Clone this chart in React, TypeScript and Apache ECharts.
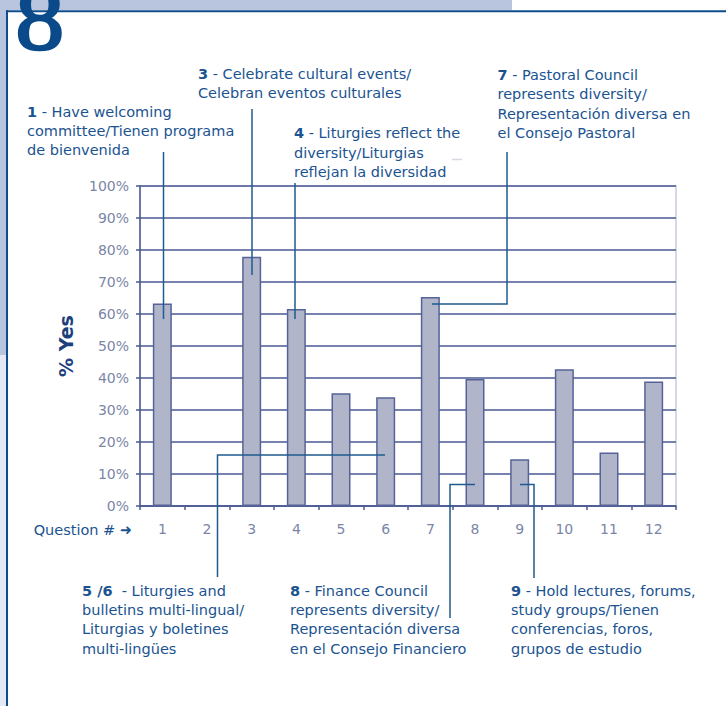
import React, { useEffect, useRef } from 'react';
import * as echarts from 'echarts';

// ---- data ----
const questions = ['1', '2', '3', '4', '5', '6', '7', '8', '9', '10', '11', '12'];
const yesPercent = [63.3, 0, 77.9, 61.6, 35.2, 34.0, 65.3, 39.7, 14.6, 42.7, 16.7, 38.9];
const yAxisTitle = '% Yes';
const xAxisTitle = 'Question # \u279C';
const pageNumber = '8';

const note1 = ['{b|1} - Have welcoming', 'committee/Tienen programa', 'de bienvenida'];
const note3 = ['{b|3} - Celebrate cultural events/', 'Celebran eventos culturales'];
const note4 = ['{b|4} - Liturgies reflect the', 'diversity/Liturgias', 'reflejan la diversidad'];
const note7 = ['{b|7} - Pastoral Council', 'represents diversity/', 'Representación diversa en', 'el Consejo Pastoral'];
const note56 = ['{b|5 /6}  - Liturgies and', 'bulletins multi-lingual/', 'Liturgias y boletines', 'multi-lingües'];
const note8 = ['{b|8} - Finance Council', 'represents diversity/', 'Representación diversa', 'en el Consejo Financiero'];
const note9 = ['{b|9} - Hold lectures, forums,', 'study groups/Tienen', 'conferencias, foros,', 'grupos de estudio'];

const FONT = '"DejaVu Sans", sans-serif';
const NOTE_COLOR = '#1b5391';
const LINE_COLOR = '#1f5b8e';
const GRID_COLOR = '#4a5893';
const LH = 19.3;

function noteText(lines: string[], x: number, top: number) {
  return {
    type: 'text',
    x,
    y: top,
    z: 100,
    style: {
      text: lines.join('\n'),
      fontSize: 14.5,
      fontFamily: FONT,
      fill: NOTE_COLOR,
      lineHeight: LH,
      align: 'left',
      verticalAlign: 'top',
      textAlign: 'left',
      textVerticalAlign: 'top',
      rich: {
        b: { fontWeight: 'bold', fontSize: 14.5, fontFamily: FONT, fill: NOTE_COLOR, lineHeight: LH },
      },
    },
  };
}

function callout(points: number[][]) {
  return {
    type: 'polyline',
    z: 100,
    shape: { points },
    style: { stroke: LINE_COLOR, lineWidth: 1.5, fill: 'none' },
  };
}

export default function App() {
  const ref = useRef<HTMLDivElement>(null);

  useEffect(() => {
    if (!ref.current) return;
    const chart = echarts.init(ref.current, undefined, { renderer: 'svg' });
    chart.setOption({
      animation: false,
      backgroundColor: '#ffffff',
      grid: {
        left: 140,
        right: 50,
        top: 186,
        bottom: 200,
        show: true,
        borderColor: '#c9ccdd',
        borderWidth: 1.5,
        backgroundColor: 'transparent',
      },
      xAxis: {
        type: 'category',
        data: questions,
        name: xAxisTitle,
        nameLocation: 'start',
        nameGap: 8,
        nameTextStyle: {
          fontFamily: FONT,
          fontSize: 14.5,
          color: NOTE_COLOR,
          align: 'right',
          verticalAlign: 'top',
          padding: [16, 0, 0, 0],
        },
        axisLine: { show: true, lineStyle: { color: GRID_COLOR, width: 1.5 } },
        axisTick: { show: true, length: 4, interval: 0, alignWithLabel: false, lineStyle: { color: GRID_COLOR, width: 1.5 } },
        axisLabel: { fontFamily: FONT, fontSize: 14, color: '#7c85a8', margin: 16, interval: 0 },
        splitLine: { show: false },
      },
      yAxis: {
        type: 'value',
        min: 0,
        max: 100,
        interval: 10,
        name: yAxisTitle,
        nameLocation: 'middle',
        nameGap: 65,
        nameRotate: 90,
        nameTextStyle: { fontFamily: FONT, fontSize: 19, fontWeight: 'bold', color: '#1e3f7e' },
        axisLine: { show: true, lineStyle: { color: GRID_COLOR, width: 1.5 } },
        axisTick: { show: true, length: 4, lineStyle: { color: GRID_COLOR, width: 1.5 } },
        axisLabel: { fontFamily: FONT, fontSize: 14, color: '#7c85a8', margin: 11, formatter: '{value}%' },
        splitLine: { show: true, lineStyle: { color: GRID_COLOR, width: 1.5 } },
      },
      series: [
        {
          type: 'bar',
          data: yesPercent,
          barWidth: 19,
          itemStyle: { color: '#b1b5c9', borderColor: '#56639a', borderWidth: 1.5 },
        },
      ],
      graphic: [
        { type: 'rect', z: 1, shape: { x: 0, y: 0, width: 512, height: 10 }, style: { fill: '#b9c5df' } },
        { type: 'rect', z: 1, shape: { x: 0, y: 0, width: 6, height: 355 }, style: { fill: '#b9c5df' } },
        { type: 'rect', z: 1, shape: { x: 0, y: 355, width: 6, height: 351 }, style: { fill: '#e5e9f3' } },
        { type: 'line', z: 2, shape: { x1: 6, y1: 11.3, x2: 726, y2: 11.3 }, style: { stroke: '#0f4c8c', lineWidth: 2 } },
        { type: 'line', z: 2, shape: { x1: 7, y1: 10.3, x2: 7, y2: 706 }, style: { stroke: '#0f4c8c', lineWidth: 2 } },
        {
          type: 'text',
          z: 3,
          x: 39.7,
          y: 18.5,
          scaleX: 1.08,
          style: {
            text: pageNumber,
            fontSize: 90,
            fontFamily: '"Liberation Serif", "DejaVu Serif", serif',
            fill: '#0a4a8a',
            stroke: '#0a4a8a',
            lineWidth: 2.5,
            align: 'center',
            verticalAlign: 'middle',
            textAlign: 'center',
            textVerticalAlign: 'middle',
          },
        },
        { type: 'line', z: 3, shape: { x1: 452, y1: 159.5, x2: 462, y2: 159.5 }, style: { stroke: '#d6d9e3', lineWidth: 1.5 } },
        noteText(note1, 27, 102),
        noteText(note3, 198, 64.5),
        noteText(note4, 294, 123.7),
        noteText(note7, 497.5, 65.5),
        noteText(note56, 82, 581),
        noteText(note8, 290, 581),
        noteText(note9, 511, 581),
        callout([[163.5, 152], [163.5, 319]]),
        callout([[252, 109], [252, 275]]),
        callout([[295, 183], [295, 319]]),
        callout([[507, 152], [507, 304], [432, 304]]),
        callout([[385, 455], [217.5, 455], [217.5, 577]]),
        callout([[475, 484.5], [450, 484.5], [450, 618]]),
        callout([[520, 484.5], [534, 484.5], [534, 578]]),
      ],
    });
    return () => chart.dispose();
  }, []);

  return (
    <div
      ref={ref}
      style={{ position: 'absolute', left: 0, top: 0, width: 726, height: 706 }}
    />
  );
}
